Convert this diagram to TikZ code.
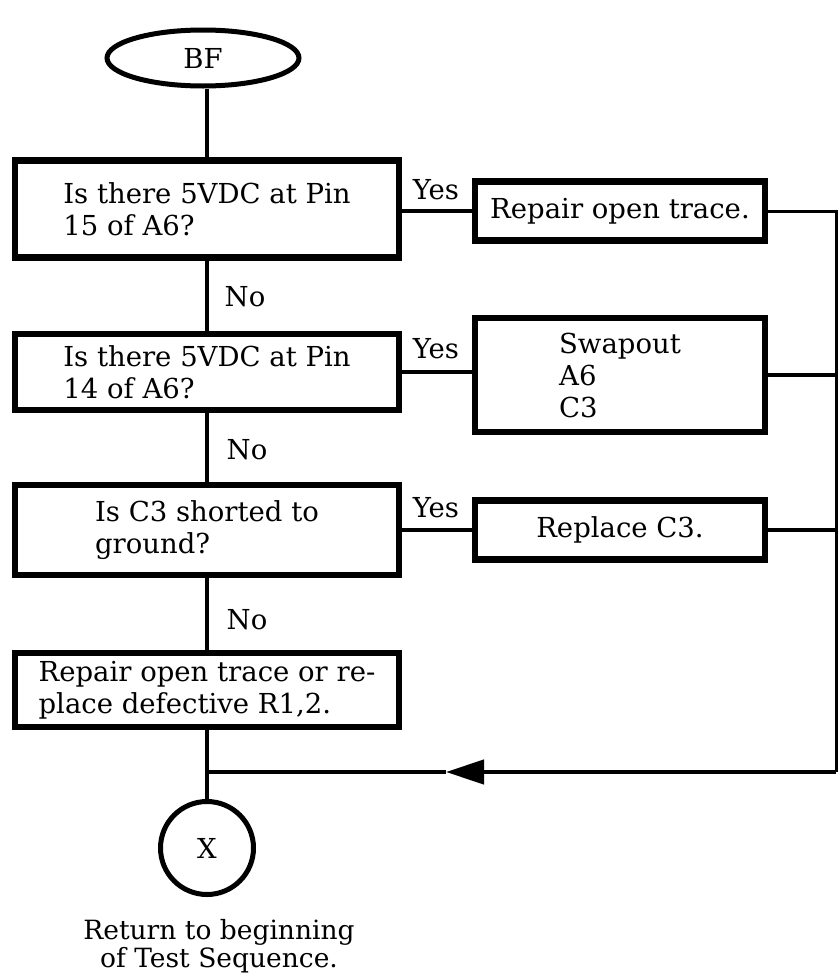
\documentclass[tikz,border=0pt]{standalone}
\usepackage{fontspec}
\setmainfont{DejaVu Serif}
\usetikzlibrary{shapes.geometric,arrows.meta}
\newcommand\myfs{\fontsize{27.5}{32}\selectfont}
\newcommand\myfsb{\fontsize{26.5}{28}\selectfont}
\begin{document}
\begin{tikzpicture}[x=1pt,y=-1pt,
  box/.style={draw,line width=6.5pt,rectangle,minimum width=384pt,align=left,inner sep=0pt,font=\myfs},
  rbox/.style={draw,line width=6.5pt,rectangle,minimum width=290pt,align=left,inner sep=0pt,font=\myfs},
  conn/.style={line width=3.5pt},
  lbl/.style={font=\myfs,inner sep=0pt}
]
\useasboundingbox (0,0) rectangle (839,980);
\node[ellipse,draw,line width=5pt,minimum width=192pt,minimum height=56pt,inner sep=0pt,font=\myfs] (bf) at (203,58) {BF};
\node[box,minimum height=97pt] (b1) at (207,209) {Is there 5VDC at Pin\\15 of A6?};
\node[box,minimum height=76pt] (b2) at (207,372) {Is there 5VDC at Pin\\14 of A6?};
\node[box,minimum height=90pt] (b3) at (207,530) {Is C3 shorted to\\ground?};
\node[box,minimum height=74pt] (b4) at (207,690) {Repair open trace or re-\\place defective R1,2.};
\node[rbox,minimum height=59pt] (r1) at (620,211) {Repair open trace.};
\node[rbox,minimum height=114pt] (r2) at (620,375) {Swapout\\A6\\C3};
\node[rbox,minimum height=59pt] (r3) at (620,530) {Replace C3.};
\node[circle,draw,line width=5pt,minimum size=93pt,inner sep=0pt,font=\myfs] (x) at (207,848) {X};
\node[font=\myfsb,align=center] (ret) at (219,946) {Return to beginning\\of Test Sequence.};
\node[lbl] (no1) at (245,297) {No};
\node[lbl] (no2) at (247,450) {No};
\node[lbl] (no3) at (247,620) {No};
\node[lbl] (yes1) at (436,190) {Yes};
\node[lbl] (yes2) at (436,349) {Yes};
\node[lbl] (yes3) at (436,508) {Yes};
\coordinate (corner) at (836,772);
\coordinate (tip) at (446,772);
\coordinate (j) at (207,772);
\draw[conn] (b1.north |- bf.south) -- (b1.north);
\draw[conn] (b1.south) -- (b2.north);
\draw[conn] (b2.south) -- (b3.north);
\draw[conn] (b3.south) -- (b4.north);
\draw[conn] (r1.west -| b1.east) -- (r1.west);
\draw[conn] (b2.east) -- (b2.east -| r2.west);
\draw[conn] (b3.east) -- (b3.east -| r3.west);
\draw[line width=3pt] (r1.east) -| (corner);
\draw[conn] (r2.east) -- (r2.east -| corner);
\draw[conn] (r3.east) -- (r3.east -| corner);
\draw[line width=4.5pt,-{Triangle[length=38pt,width=24pt]}] (corner) -- (tip);
\draw[line width=4.5pt] (tip) -- (j);
\draw[conn] (b4.south) -- (x.north);
\end{tikzpicture}
\end{document}
